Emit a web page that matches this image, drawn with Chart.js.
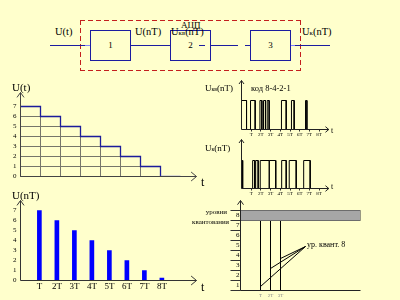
<!DOCTYPE html>
<html>
<head>
<meta charset="utf-8">
<script src="https://cdn.jsdelivr.net/npm/chart.js@4.4.1/dist/chart.umd.min.js"></script>
<style>
  html, body { margin: 0; background: #ffffcc; }
  #page { position: relative; width: 400px; height: 300px; overflow: hidden;
          font-family: "Liberation Serif", "DejaVu Serif", serif; color: #000; }
  #page canvas { position: absolute; }
  .t { position: absolute; white-space: nowrap; line-height: 1; }
  .s { font-size: 0.65em; }
  .box { position: absolute; top: 30px; width: 41px; height: 31px; box-sizing: border-box;
         border: 1px solid #1c1ca0; text-align: center; font-size: 9px; line-height: 29px; }
  .wire { position: absolute; top: 45px; height: 1px; background: #1c1ca0; }
  .dh { position: absolute; height: 1px; background: repeating-linear-gradient(90deg, #c41e1e 0 5px, transparent 5px 8px); }
  .dv { position: absolute; width: 1px; background: repeating-linear-gradient(180deg, #c41e1e 0 5px, transparent 5px 8px); }
</style>
</head>
<body>
<div id="page">
  <!-- ADC block diagram -->
  <div class="dh" style="left:80px;top:20px;width:221px"></div>
  <div class="dh" style="left:80px;top:70px;width:221px"></div>
  <div class="dv" style="left:80px;top:20px;height:51px"></div>
  <div class="dv" style="left:300px;top:20px;height:51px"></div>
  <div class="wire" style="left:50px;width:35px"></div>
  <div class="wire" style="left:85px;width:5px;background:#8080ff"></div>
  <div class="wire" style="left:130px;width:40px"></div>
  <div class="wire" style="left:199px;width:6px"></div>
  <div class="wire" style="left:210px;width:28px"></div>
  <div class="wire" style="left:245px;width:5px"></div>
  <div class="wire" style="left:290px;width:5px;background:#8080ff"></div>
  <div class="wire" style="left:295px;width:35px"></div>
  <div class="box" style="left:90px">1</div>
  <div class="box" style="left:170px">2</div>
  <div class="box" style="left:250px">3</div>
  <div class="t" style="left:55px;top:27px;font-size:10.5px">U(t)</div>
  <div class="t" style="left:135px;top:27px;font-size:10.5px">U(nT)</div>
  <div class="t" style="left:171px;top:27px;font-size:10.5px">U<span class="s">кв</span>(nT)</div>
  <div class="t" style="left:181px;top:21px;font-size:9px">АЦП</div>
  <div class="t" style="left:302px;top:27px;font-size:10.5px">U<span class="s">к</span>(nT)</div>

  <canvas id="cStep" width="210" height="115" style="left:0;top:80px;width:210px;height:115px"></canvas>
  <canvas id="cSamp" width="210" height="110" style="left:0;top:190px;width:210px;height:110px"></canvas>
  <canvas id="cCode" width="110" height="65" style="left:230px;top:75px;width:110px;height:65px"></canvas>
  <canvas id="cOut" width="110" height="65" style="left:230px;top:134px;width:110px;height:65px"></canvas>
  <canvas id="cQuant" width="200" height="105" style="left:200px;top:195px;width:200px;height:105px"></canvas>

  <div class="t" style="left:12px;top:82px;font-size:11px">U(t)</div>
  <div class="t" style="left:201px;top:176px;font-size:12px">t</div>
  <div class="t" style="left:12px;top:190px;font-size:11px">U(nT)</div>
  <div class="t" style="left:201px;top:281px;font-size:12px">t</div>
  <div class="t" style="left:205px;top:83.5px;font-size:9px">U<span class="s">кв</span>(nT)</div>
  <div class="t" style="left:251px;top:84px;font-size:8.5px">код 8-4-2-1</div>
  <div class="t" style="left:331px;top:127px;font-size:8px">t</div>
  <div class="t" style="left:205px;top:143.5px;font-size:9px">U<span class="s">к</span>(nT)</div>
  <div class="t" style="left:331px;top:183px;font-size:8px">t</div>
  <div class="t" style="right:173px;top:209px;font-size:7px">уровни</div>
  <div class="t" style="right:171px;top:219px;font-size:7px">квантования</div>
  <div class="t" style="left:307px;top:240.5px;font-size:8px">ур. квант. 8</div>
</div>

<script>
// staircase U(t) and samples U(nT)
const levelTicks = ['0', '1', '2', '3', '4', '5', '6', '7'];
const stepValues = [7, 6, 5, 4, 3, 2, 1, 0];
const sampleLabels = ['T', '2T', '3T', '4T', '5T', '6T', '7T', '8T'];
const sampleValues = [7, 6, 5, 4, 3, 2, 1, 0.25];

// pulse trains, in units of T
const codeStarts = [0, 0.93, 1.90, 2.27, 2.65, 4.12, 5.15, 6.60];
const codeEnds = [0.52, 1.41, 2.10, 2.47, 2.85, 4.61, 5.43, 6.74];
const outStarts = [0, 1.15, 1.46, 1.93, 2.86, 4.14, 4.92, 6.41];
const outEnds = [0.12, 1.36, 1.72, 2.86, 3.53, 4.61, 5.64, 7.08];

// quantization levels
const quantLabels = ['1', '2', '3', '4', '5', '6', '7', '8'];
const bandRange = [7, 8];
const quantSamples = [1, 2, 3];
const quantTop = 7.6;
const quantHub = [5.5, 4.4];
const quantHits = [0.4, 2.2, 3.2];

const serif = '"Liberation Serif", "DejaVu Serif", serif';
Chart.defaults.font.family = serif;
Chart.defaults.color = '#000';

const fixY = w => s => { s.width = w; s.paddingTop = 0; s.paddingBottom = 0; };
const fixX = h => s => { s.height = h; s.paddingLeft = 0; s.paddingRight = 0; };

// axis lines with arrow heads
const axesPlugin = {
  id: 'axes',
  afterDraw(chart, args, o) {
    const { ctx, chartArea: a } = chart;
    ctx.save();
    ctx.strokeStyle = o.color || '#333';
    ctx.lineWidth = 1;
    ctx.beginPath();
    ctx.moveTo(a.left, a.bottom); ctx.lineTo(a.left, a.top);
    ctx.moveTo(a.left, a.bottom); ctx.lineTo(a.right, a.bottom);
    if (o.ay) {
      ctx.moveTo(a.left - o.ay, a.top + o.ay * 1.4);
      ctx.lineTo(a.left, a.top);
      ctx.lineTo(a.left + o.ay, a.top + o.ay * 1.4);
    }
    if (o.ax) {
      ctx.moveTo(a.right - o.ax * 1.2, a.bottom - o.ax);
      ctx.lineTo(a.right, a.bottom);
      ctx.lineTo(a.right - o.ax * 1.2, a.bottom + o.ax);
    }
    ctx.stroke();
    ctx.restore();
  }
};

// grid cells under the staircase
const cellPlugin = {
  id: 'cells',
  beforeDatasetsDraw(chart) {
    const { ctx, scales: { x, y } } = chart;
    ctx.save();
    ctx.strokeStyle = '#76766a';
    ctx.lineWidth = 1;
    stepValues.forEach((v, i) => {
      for (let k = 0; k < v; k++) {
        const l = x.getPixelForValue(i), r = x.getPixelForValue(i + 1);
        const t = y.getPixelForValue(k + 1), b = y.getPixelForValue(k);
        ctx.strokeRect(l, t, r - l, b - t);
      }
    });
    ctx.restore();
  }
};

// level tick marks on the quantization axis
const levelMarks = {
  id: 'levelMarks',
  afterDraw(chart) {
    const { ctx, chartArea: a, scales: { y } } = chart;
    ctx.save();
    ctx.strokeStyle = '#333';
    ctx.beginPath();
    for (let k = 0; k <= quantLabels.length; k++) {
      const py = y.getPixelForValue(k);
      ctx.moveTo(a.left - 10, py); ctx.lineTo(a.left, py);
    }
    ctx.stroke();
    ctx.restore();
  }
};

const base = { responsive: false, animation: false, events: [] };
const quiet = { legend: { display: false }, tooltip: { enabled: false } };

// U(t) staircase
const stepPoints = stepValues.map((v, i) => ({ x: i, y: v }));
stepPoints.push({ x: stepValues.length, y: stepValues[stepValues.length - 1] });
new Chart(document.getElementById('cStep'), {
  type: 'line',
  data: { datasets: [{
    data: stepPoints, stepped: 'before', borderColor: '#1b1b9b', borderWidth: 1.3, pointRadius: 0,
    segment: { borderColor: c => c.p0DataIndex >= stepValues.length - 1 ? '#7070e0' : undefined }
  }] },
  options: { ...base,
    layout: { padding: { left: 0, top: 12.5, right: 13.5, bottom: 18.5 } },
    plugins: { ...quiet, axes: { color: '#444', ax: 4.5, ay: 3.5 } },
    scales: {
      x: { type: 'linear', min: 0, max: 8.8, display: false },
      y: { min: 0, max: 8.4, afterFit: fixY(20.5),
           afterBuildTicks: s => { s.ticks = levelTicks.map((_, i) => ({ value: i })); },
           ticks: { callback: (v, i) => levelTicks[i], font: { size: 7 }, padding: 4, autoSkip: false },
           grid: { display: false, drawTicks: false }, border: { display: false } }
    }
  },
  plugins: [cellPlugin, axesPlugin]
});

// U(nT) samples
new Chart(document.getElementById('cSamp'), {
  type: 'bar',
  data: { datasets: [{
    data: sampleValues.map((v, i) => ({ x: i + 0.45, y: v })),
    backgroundColor: '#0000ff', barThickness: 4
  }] },
  options: { ...base,
    layout: { padding: { left: 0, top: 10.5, right: 13.5, bottom: 0 } },
    plugins: { ...quiet, axes: { color: '#333', ax: 4.5, ay: 3.5 } },
    scales: {
      x: { type: 'linear', min: 0, max: 8.8, afterFit: fixX(19.5),
           afterBuildTicks: s => { s.ticks = sampleLabels.map((_, i) => ({ value: i + 0.45 })); },
           ticks: { callback: (v, i) => sampleLabels[i], font: { size: 9 }, padding: 1, autoSkip: false, maxRotation: 0 },
           grid: { display: false, drawTicks: false }, border: { display: false } },
      y: { min: 0, max: 8, afterFit: fixY(20.5),
           afterBuildTicks: s => { s.ticks = levelTicks.map((_, i) => ({ value: i })); },
           ticks: { callback: (v, i) => levelTicks[i], font: { size: 7 }, padding: 4, autoSkip: false },
           grid: { display: false, drawTicks: false }, border: { display: false } }
    }
  },
  plugins: [axesPlugin]
});

// pulse trains
function pulsePoints(starts, ends) {
  const pts = [];
  starts.forEach((a, i) => {
    pts.push({ x: a, y: 0 }, { x: a, y: 1 }, { x: ends[i], y: 1 }, { x: ends[i], y: 0 });
  });
  return pts;
}
function pulseChart(id, starts, ends, yMax) {
  new Chart(document.getElementById(id), {
    type: 'line',
    data: { datasets: [{ data: pulsePoints(starts, ends), borderColor: '#000', borderWidth: 1, pointRadius: 0, tension: 0 }] },
    options: { ...base,
      layout: { padding: { left: 11.5, top: 5.5, right: 11.2, bottom: 0 } },
      plugins: { ...quiet, axes: { color: '#222', ax: 2.8, ay: 2.5 } },
      scales: {
        x: { type: 'linear', min: 0, max: 9, afterFit: fixX(10.5),
             afterBuildTicks: s => { s.ticks = sampleLabels.map((_, i) => ({ value: i + 1 })); },
             ticks: { callback: (v, i) => sampleLabels[i], font: { size: 5 }, padding: 0, autoSkip: false, maxRotation: 0 },
             grid: { display: true, drawOnChartArea: false, tickLength: 2, color: '#333' }, border: { display: false } },
        y: { min: 0, max: yMax, display: false }
      }
    },
    plugins: [axesPlugin]
  });
}
pulseChart('cCode', codeStarts, codeEnds, 1.69);
pulseChart('cOut', outStarts, outEnds, 1.75);

// quantization levels
const xMin = -1, xMax = 11;
const quantSets = [
  { data: [{ x: xMin, y: bandRange[1] }, { x: xMax, y: bandRange[1] }],
    fill: { value: bandRange[0] }, backgroundColor: '#a6a6a6', borderWidth: 0, pointRadius: 0 },
  { data: [{ x: xMin, y: bandRange[0] }, { x: xMax, y: bandRange[0] }, { x: xMax, y: bandRange[1] }, { x: xMin, y: bandRange[1] }],
    borderColor: '#333', borderWidth: 1, pointRadius: 0 }
];
quantSamples.forEach((s, i) => {
  quantSets.push({ data: [{ x: s, y: 0 }, { x: s, y: quantTop }], borderColor: '#000', borderWidth: 1,
    pointRadius: c => c.dataIndex === 1 ? 1.6 : 0, pointBackgroundColor: '#000', pointBorderWidth: 0 });
  quantSets.push({ data: [{ x: quantHub[0], y: quantHub[1] }, { x: s, y: quantHits[i] }], borderColor: '#000', borderWidth: 1, pointRadius: 0 });
});
new Chart(document.getElementById('cQuant'), {
  type: 'line',
  data: { datasets: quantSets },
  options: { ...base,
    layout: { padding: { left: 0, top: 5.5, right: 39.5, bottom: 0 } },
    plugins: { ...quiet, axes: { color: '#222', ay: 3 } },
    scales: {
      x: { type: 'linear', min: xMin, max: xMax, afterFit: fixX(9.5),
           afterBuildTicks: s => { s.ticks = quantSamples.map(v => ({ value: v })); },
           ticks: { callback: (v, i) => sampleLabels[quantSamples[i] - 1], font: { size: 5 }, color: '#888', padding: 2, autoSkip: false, maxRotation: 0 },
           grid: { display: false, drawTicks: false }, border: { display: false } },
      y: { min: 0, max: 9, afterFit: fixY(40.5),
           afterBuildTicks: s => { s.ticks = quantLabels.map((_, i) => ({ value: i + 0.5 })); },
           ticks: { callback: (v, i) => quantLabels[i], font: { size: 7 }, padding: 1, autoSkip: false },
           grid: { display: false, drawTicks: false }, border: { display: false } }
    }
  },
  plugins: [levelMarks, axesPlugin]
});
</script>
</body>
</html>
